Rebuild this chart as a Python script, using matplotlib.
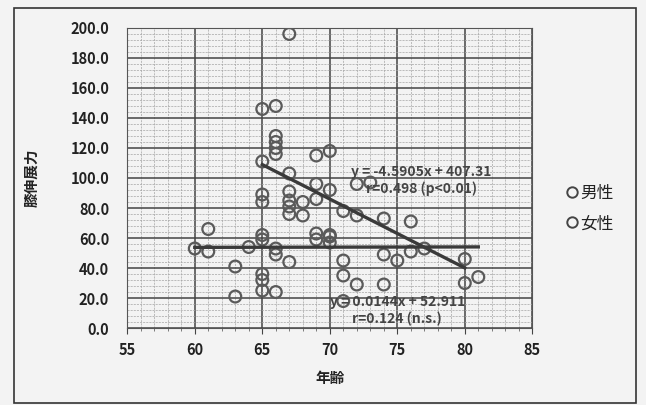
import numpy as np
import matplotlib.pyplot as plt
from matplotlib.patches import Rectangle
from matplotlib.ticker import MultipleLocator, FormatStrFormatter
from matplotlib.lines import Line2D

plt.rcParams['font.family'] = ['Noto Sans CJK JP', 'DejaVu Sans']

# 男性
male_age = [65, 66, 67, 66, 66, 66, 66, 65, 69, 70, 67, 69, 67, 70, 65, 65,
            67, 67, 67, 68, 69, 68, 71, 72, 73, 72, 74, 76, 77, 76, 80, 80,
            74, 75, 74, 71, 72, 71, 70]
male_force = [146, 148, 196, 128, 124, 120, 116, 111, 115, 118, 103, 96, 91, 92, 89, 84,
              85, 81, 76, 84, 86, 75, 78, 96, 97, 75, 73, 71, 53, 51, 46, 30,
              49, 45, 29, 35, 29, 45, 61]
# 女性
female_age = [60, 61, 61, 63, 63, 64, 65, 65, 66, 66, 67, 65, 65, 65, 66,
              69, 69, 70, 70, 71, 81]
female_force = [53, 66, 51, 41, 21, 54, 62, 59, 53, 49, 44, 36, 32, 25, 24,
                63, 59, 62, 57, 18, 34]

# 回帰式
male_slope, male_icpt = -4.5905, 407.31
female_slope, female_icpt = 0.0144, 52.911
male_label = 'y = -4.5905x + 407.31\nr=0.498 (p<0.01)'
female_label = 'y = 0.0144x + 52.911\nr=0.124 (n.s.)'

fig = plt.figure(figsize=(6.46, 4.05), dpi=100, facecolor='#f3f3f3')
ax = fig.add_axes([0.197, 0.190, 0.627, 0.741])
ax.set_facecolor('#f3f3f3')

# 外枠
fig.patches.append(Rectangle((0.022, 0.006), 0.962, 0.974, transform=fig.transFigure,
                             fill=False, edgecolor='#333333', linewidth=1.2))

ax.set_xlim(55, 85)
ax.set_ylim(0, 200)
ax.xaxis.set_major_locator(MultipleLocator(5))
ax.xaxis.set_minor_locator(MultipleLocator(1))
ax.yaxis.set_major_locator(MultipleLocator(20))
ax.yaxis.set_minor_locator(MultipleLocator(4))
ax.yaxis.set_major_formatter(FormatStrFormatter('%.1f'))

ax.grid(which='major', color='#444444', linewidth=1.1)
ax.grid(which='minor', color='#a5a5a5', linewidth=0.5, linestyle=(0, (3, 1.5)))
ax.set_axisbelow(True)
for s in ax.spines.values():
    s.set_color('#555555')
    s.set_linewidth(0.8)
ax.tick_params(which='major', direction='out', length=4, color='#444444',
               labelsize=10.5, labelcolor='#222222')
ax.tick_params(which='minor', direction='out', length=2.5, color='#666666')
ax.tick_params(axis='x', which='major', pad=6)
ax.tick_params(axis='y', which='both', length=0, pad=13)
for lab in ax.get_xticklabels() + ax.get_yticklabels():
    lab.set_fontweight('bold')

mk = dict(s=72, facecolors='none', edgecolors='#5a5a5a', linewidths=1.6, zorder=3)
ax.scatter(male_age, male_force, **mk)
ax.scatter(female_age, female_force, **mk)

xm = np.array([min(male_age), max(male_age)])
ax.plot(xm, male_slope * xm + male_icpt, color='#3a3a3a', linewidth=2.4, zorder=4)
xf = np.array([min(female_age), max(female_age)])
ax.plot(xf, female_slope * xf + female_icpt, color='#3a3a3a', linewidth=2.4, zorder=4)

ax.text(76.8, 98.5, male_label, fontsize=10, fontweight='bold', color='#444444',
        ha='center', va='center', linespacing=1.2, zorder=5)
ax.text(75.0, 11.5, female_label, fontsize=10, fontweight='bold', color='#444444',
        ha='center', va='center', linespacing=1.2, zorder=5)

ax.set_xlabel('年齢', fontsize=10.5, fontweight='bold', color='#222222', labelpad=9)
ax.set_ylabel('膝伸展力', fontsize=10.5, fontweight='bold', color='#222222', labelpad=22)

handles = [Line2D([], [], linestyle='none', marker='o', markersize=7.5,
                  markerfacecolor='none', markeredgecolor='#444444', markeredgewidth=1.4)
           for _ in range(2)]
fig.legend(handles, ['男性', '女性'], loc='center left', bbox_to_anchor=(0.855, 0.485),
           frameon=False, handlelength=0.6, handletextpad=0.15, labelspacing=0.8,
           prop={'size': 12}, labelcolor='#222222')

fig.savefig('out.png', dpi=100, facecolor=fig.get_facecolor())
